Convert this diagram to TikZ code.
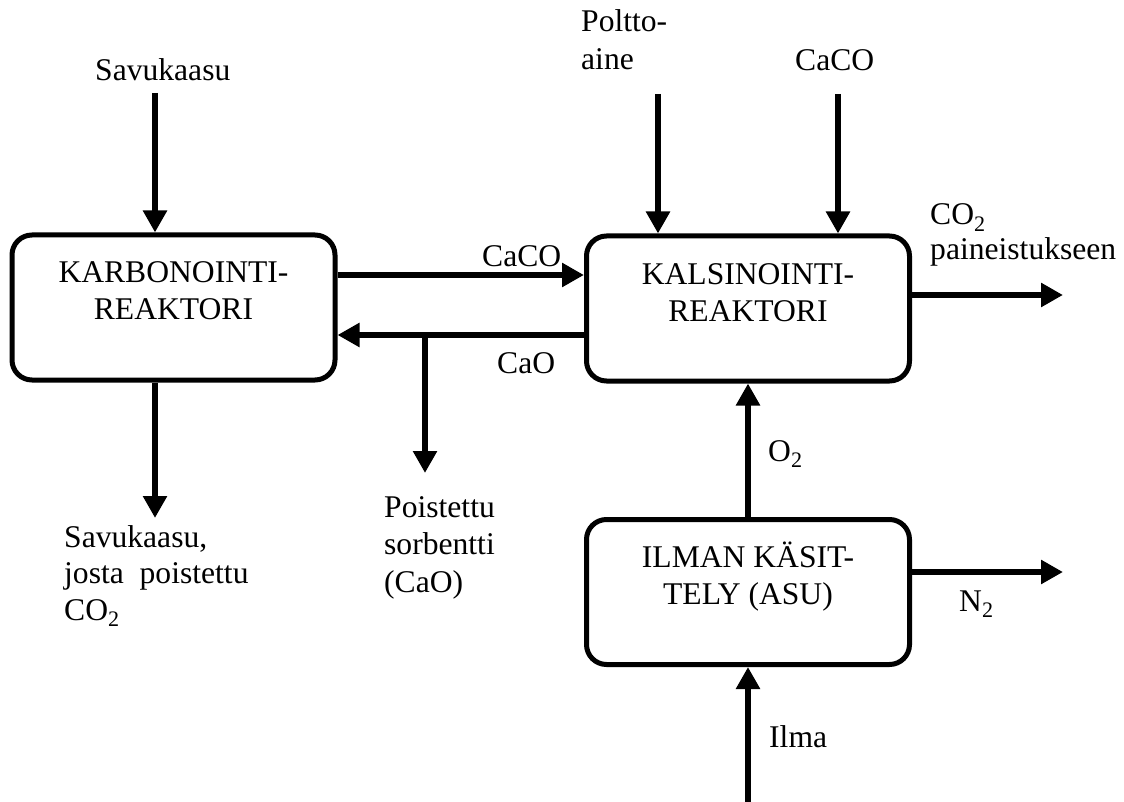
\documentclass[tikz,border=0pt]{standalone}
\usepackage{fontspec}
\setmainfont{Liberation Serif}
\usetikzlibrary{arrows.meta}
\begin{document}
\begin{tikzpicture}[x=1pt,y=-1pt,
  box/.style={draw, line width=5pt, rounded corners=20pt, minimum width=323pt, minimum height=145pt, inner sep=0pt, text height=26pt, text depth=75pt, font=\fontsize{31.6}{37}\selectfont},
  arr/.style={line width=6pt, -{Triangle[length=22pt,width=23pt]}},
  lbl/.style={anchor=base west, inner sep=0pt, font=\fontsize{31.6}{37}\selectfont}]
\useasboundingbox (0,0) rectangle (1124,802);
% boxes
\node[box] (k) at (173.5,307.5) {\begin{tabular}[t]{@{}c@{}}KARBONOINTI-\\REAKTORI\end{tabular}};
\node[box] (c) at (748,308.5) {\begin{tabular}[t]{@{}c@{}}KALSINOINTI-\\REAKTORI\end{tabular}};
\node[box] (i) at (748,592) {\begin{tabular}[t]{@{}c@{}}ILMAN KÄSIT-\\TELY (ASU)\end{tabular}};
% coordinates
\coordinate (svin) at (155,93);
\coordinate (svout) at (155,518);
\coordinate (ya) at (0,275);
\coordinate (yb) at (0,335);
\coordinate (br) at (425,335);
\coordinate (brend) at (425,473);
\coordinate (pa) at (658,94);
\coordinate (cc) at (838,94);
\coordinate (co2) at (1063,295);
\coordinate (n2) at (1063,572);
\coordinate (ilma) at (748,802);
% connectors
\draw[arr] (svin) -- (svin |- k.north);
\draw[arr] (svout |- k.south) -- (svout);
\draw[arr] (k.east |- ya) -- (c.west |- ya);
\draw[arr] (c.west |- yb) -- (k.east |- yb);
\draw[arr] (br) -- (brend);
\draw[arr] (pa) -- (pa |- c.north);
\draw[arr] (cc) -- (cc |- c.north);
\draw[arr] (c.east |- co2) -- (co2);
\draw[arr] (i.north) -- (c.south);
\draw[arr] (i.east |- n2) -- (n2);
\draw[arr] (ilma) -- (i.south);
% labels
\node[lbl] (lsv) at (95,81) {Savukaasu};
\node[lbl] (lpa) at (581,32) {\fontsize{31.6}{38}\selectfont\begin{tabular}[t]{@{}l@{}}Poltto-\\aine\end{tabular}};
\node[lbl] (lcc) at (795,71) {CaCO};
\node[lbl] (lcaco) at (482,267) {CaCO};
\node[lbl] (lcao) at (497,373) {CaO};
\node[lbl] (lco2) at (930,225) {\fontsize{31.6}{35}\selectfont\begin{tabular}[t]{@{}l@{}}CO\textsubscript{2}\\paineistukseen\end{tabular}};
\node[lbl] (lsvout) at (64,547) {\fontsize{31.6}{36.5}\selectfont\begin{tabular}[t]{@{}l@{}}Savukaasu,\\josta\hspace{0.5em}poistettu\\CO\textsubscript{2}\end{tabular}};
\node[lbl] (lps) at (384,517) {\fontsize{31.6}{37.5}\selectfont\begin{tabular}[t]{@{}l@{}}Poistettu\\sorbentti\\(CaO)\end{tabular}};
\node[lbl] (lo2) at (768,461) {O\textsubscript{2}};
\node[lbl] (ln2) at (959,611) {N\textsubscript{2}};
\node[lbl] (lil) at (769,747) {Ilma};
\end{tikzpicture}
\end{document}
